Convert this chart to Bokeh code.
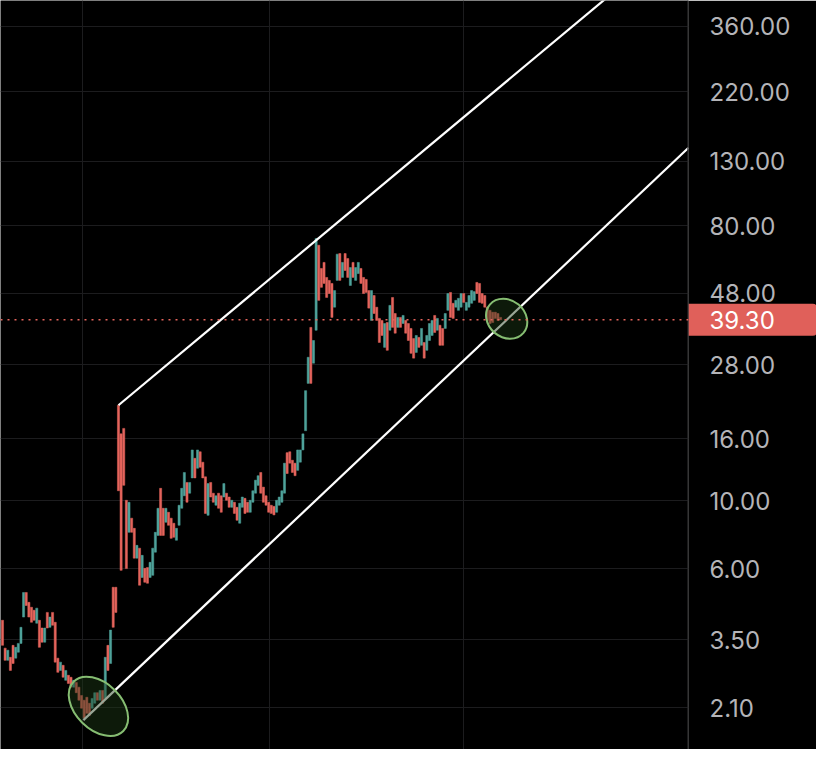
from bokeh.plotting import figure
from bokeh.models import (Range1d, FixedTicker, PrintfTickFormatter, Span, Label,
                          Grid, ColumnDataSource)
from bokeh.embed import file_html
from bokeh.resources import INLINE

# ---------------- data ----------------
opens = [
    4.06, 3.29, 3.00, 3.07, 3.36, 3.05, 3.19, 3.41, 4.16, 5.01,
    4.65, 4.48, 4.38, 3.97, 4.06, 3.83, 3.44, 4.31, 3.85, 4.31,
    4.00, 3.05, 2.78, 2.89, 2.58, 2.68, 2.64, 2.45, 2.54, 2.45,
    2.30, 2.22, 2.27, 2.17, 2.09, 2.17, 2.35, 2.22, 2.39, 2.25,
    3.36, 2.93, 5.21, 5.21,
    20.6, 16.6, 17.3, 10.05, 7.89, 8.78, 8.13, 6.49, 7.00, 5.61,
    6.01, 6.05, 5.61, 5.70, 6.79, 7.71, 11.0, 9.46, 8.51, 9.18,
    8.78, 8.45, 7.43, 8.32, 9.46, 10.4, 11.5, 10.6, 11.9, 13.8,
    12.8, 14.5, 13.4, 12.0, 8.97,
    11.5, 10.6, 9.68, 10.6, 10.4, 10.3, 10.6, 10.3, 9.53, 9.9,
    9.53, 8.45, 9.53, 10.2, 9.9, 9.18, 9.9, 10.6, 11.25, 12.4,
    11.1, 10.4, 9.9, 9.68, 9.6, 9.18, 9.68, 9.9, 10.6, 14.4,
    14.5, 13.6, 13.3, 12.6, 13.4, 14.7,
    17.0, 24.3, 37.1, 28.3, 36.3, 69.0, 57.9, 60.6, 54.1, 52.9,
    51.7, 43.2, 52.9, 64.8, 54.1, 64.8, 62.4, 50.9, 60.6, 52.9,
    55.7, 57.9, 54.1, 53.3, 49.0, 39.1, 47.2, 43.2, 39.7, 39.1,
    31.9, 38.5, 36.3, 46.5, 41.2, 37.1, 40.0, 38.2,
    39.1, 38.2, 36.8, 34.1, 30.7, 34.4, 32.4, 33.1, 31.2, 33.6,
    34.9, 40.6, 36.3, 37.7, 36.8, 36.8, 42.2, 48.3, 44.5, 43.2,
    42.2, 43.2, 47.9, 42.2, 43.2, 44.5, 45.5, 52.1, 51.7, 47.9,
    47.2, 43.2, 42.2, 41.6, 41.6, 41.2, 40.0,
]
closes = [
    3.36, 3.00, 3.24, 2.78, 2.93, 3.31, 3.41, 3.85, 5.01, 4.54,
    4.16, 4.00, 4.06, 4.45, 3.31, 3.44, 3.83, 3.83, 4.16, 3.91,
    2.96, 2.74, 2.96, 2.64, 2.78, 2.52, 2.45, 2.58, 2.35, 2.22,
    2.09, 1.94, 2.01, 1.98, 2.25, 2.35, 2.22, 2.39, 2.17, 3.07,
    2.78, 3.77, 3.85, 4.31,
    10.8, 5.92, 11.25, 6.0, 9.9, 7.89, 6.49, 7.15, 5.29, 6.63,
    5.41, 5.37, 6.29, 7.0, 7.89, 9.46, 7.71, 7.71, 9.46, 8.32,
    7.54, 7.60, 8.13, 9.68, 11.0, 12.4, 9.9, 11.5, 14.7, 11.9,
    14.7, 12.9, 11.9, 9.1, 11.4,
    10.3, 9.9, 10.4, 9.46, 9.18, 11.4, 10.05, 9.53, 10.05, 9.1,
    8.64, 9.83, 10.3, 9.1, 9.18, 10.05, 10.8, 11.7, 12.1, 10.6,
    9.9, 9.68, 9.18, 9.1, 9.0, 10.05, 10.3, 10.8, 13.3, 12.3,
    13.3, 12.4, 12.1, 14.7, 14.7, 16.6,
    23.0, 29.6, 24.3, 33.6, 72.6, 45.5, 50.2, 51.7, 46.5, 47.9,
    40.0, 49.0, 64.5, 52.9, 60.6, 57.0, 54.1, 58.3, 54.1, 58.3,
    60.6, 51.7, 47.9, 48.3, 42.9, 49.0, 41.2, 39.1, 33.1, 34.9,
    38.2, 31.2, 43.8, 37.1, 35.5, 40.0, 37.1, 40.6,
    35.5, 33.6, 30.5, 29.4, 34.9, 31.9, 36.8, 29.4, 34.9, 38.2,
    39.1, 35.7, 39.7, 32.4, 32.4, 41.2, 47.9, 40.0, 39.7, 45.5,
    46.2, 47.9, 44.8, 44.8, 47.2, 49.0, 48.6, 47.9, 44.8, 44.5,
    43.2, 39.1, 38.2, 38.5, 39.7, 39.1, 39.3,
]

price_ticks = [2.1, 3.5, 6, 10, 16, 28, 48, 80, 130, 220, 360]
time_grid = [30.4, 101.3, 175.0]
last_price = 39.30
last_label = "39.30"

upper_channel_x = [44.0, 260.0]
upper_channel_y = [20.6, 745.0]
lower_channel_x = [30.7, 260.3]
lower_channel_y = [1.91, 144.0]

mark_x = [36.4, 191.3]
mark_y = [2.12, 39.6]

# ---------------- figure ----------------
UP = "#4fa39b"
DOWN = "#e5645c"
GRID = "#1c1c1e"
FONT = "Inter"
FS = "24px"
X_END = 260.3

n = min(len(opens), len(closes))
idx = list(range(n))
tops = [max(o, c) for o, c in zip(opens[:n], closes[:n])]
bots = [min(o, c) for o, c in zip(opens[:n], closes[:n])]
cols = [UP if c >= o else DOWN for o, c in zip(opens[:n], closes[:n])]
src = ColumnDataSource(dict(x=idx, top=tops, bottom=bots, color=cols))

p = figure(frame_width=688, frame_height=749,
           min_border_left=0, min_border_right=124,
           min_border_top=0, min_border_bottom=0,
           x_range=Range1d(-0.76, X_END), y_range=Range1d(1.53, 438.1),
           y_axis_type="log", y_axis_location="right", x_axis_location=None,
           toolbar_location=None, output_backend="svg")

p.background_fill_color = "#000000"
p.border_fill_color = "#000000"
p.outline_line_color = None

# remove any default vertical grid, add the time grid
p.center = [r for r in p.center if not (isinstance(r, Grid) and r.dimension == 0)]
p.add_layout(Grid(dimension=0, ticker=FixedTicker(ticks=time_grid),
                  grid_line_color=GRID, grid_line_width=1))

ax = p.yaxis[0]
ax.ticker = FixedTicker(ticks=price_ticks)
ax.formatter = PrintfTickFormatter(format="%.2f")
ax.major_tick_line_color = None
ax.minor_tick_line_color = None
ax.major_tick_out = 0
ax.major_tick_in = 0
ax.axis_line_color = None
ax.major_label_text_font = FONT
ax.major_label_text_font_size = FS
ax.major_label_text_color = "#b4b4b8"

p.ygrid.grid_line_color = GRID
p.ygrid.grid_line_width = 1

# boundary between chart and price scale
p.add_layout(Span(location=X_END - 0.15, dimension="height",
                  line_color="#2a2a2c", line_width=1.5))

p.vbar(x="x", width=0.8, top="top", bottom="bottom", source=src,
       fill_color="color", line_color="color", line_width=0.5)

# channel lines
p.line(upper_channel_x, upper_channel_y, line_color="white", line_width=2.2)
p.line(lower_channel_x, lower_channel_y, line_color="white", line_width=2.2)

# highlight ellipses
p.ellipse(x=mark_x, y=mark_y, width=[70, 44], height=[46, 37],
          angle=[-0.78, -0.7], width_units="screen", height_units="screen",
          fill_color="#1d3a17", fill_alpha=0.45,
          line_color="#86bd72", line_width=2)

# last price line
p.add_layout(Span(location=last_price, dimension="width", line_color=DOWN,
                  line_width=1.5, line_dash="2 5"))

# last price tag, placed in the right side panel (not clipped by the frame)
PAD_L, PAD_R = 21, 42
tag = Label(x=0, y=last_price, x_units="screen", y_units="data",
            text=last_label, text_font=FONT, text_font_size=FS,
            text_color="white", text_align="left", text_baseline="middle",
            background_fill_color="#e0605a",
            padding=dict(left=PAD_L, right=PAD_R, top=7, bottom=7),
            border_radius=dict(top_left=0, top_right=4,
                               bottom_right=4, bottom_left=0))
p.add_layout(tag, "right")
p.right = [tag] + [r for r in p.right if r is not tag]
# the tag panel sits next to the frame; pull the price labels back over it
TAG_W = 65 + PAD_L + PAD_R
ax.major_label_standoff = 21 - TAG_W

open("out.html", "w").write(file_html(p, INLINE))
